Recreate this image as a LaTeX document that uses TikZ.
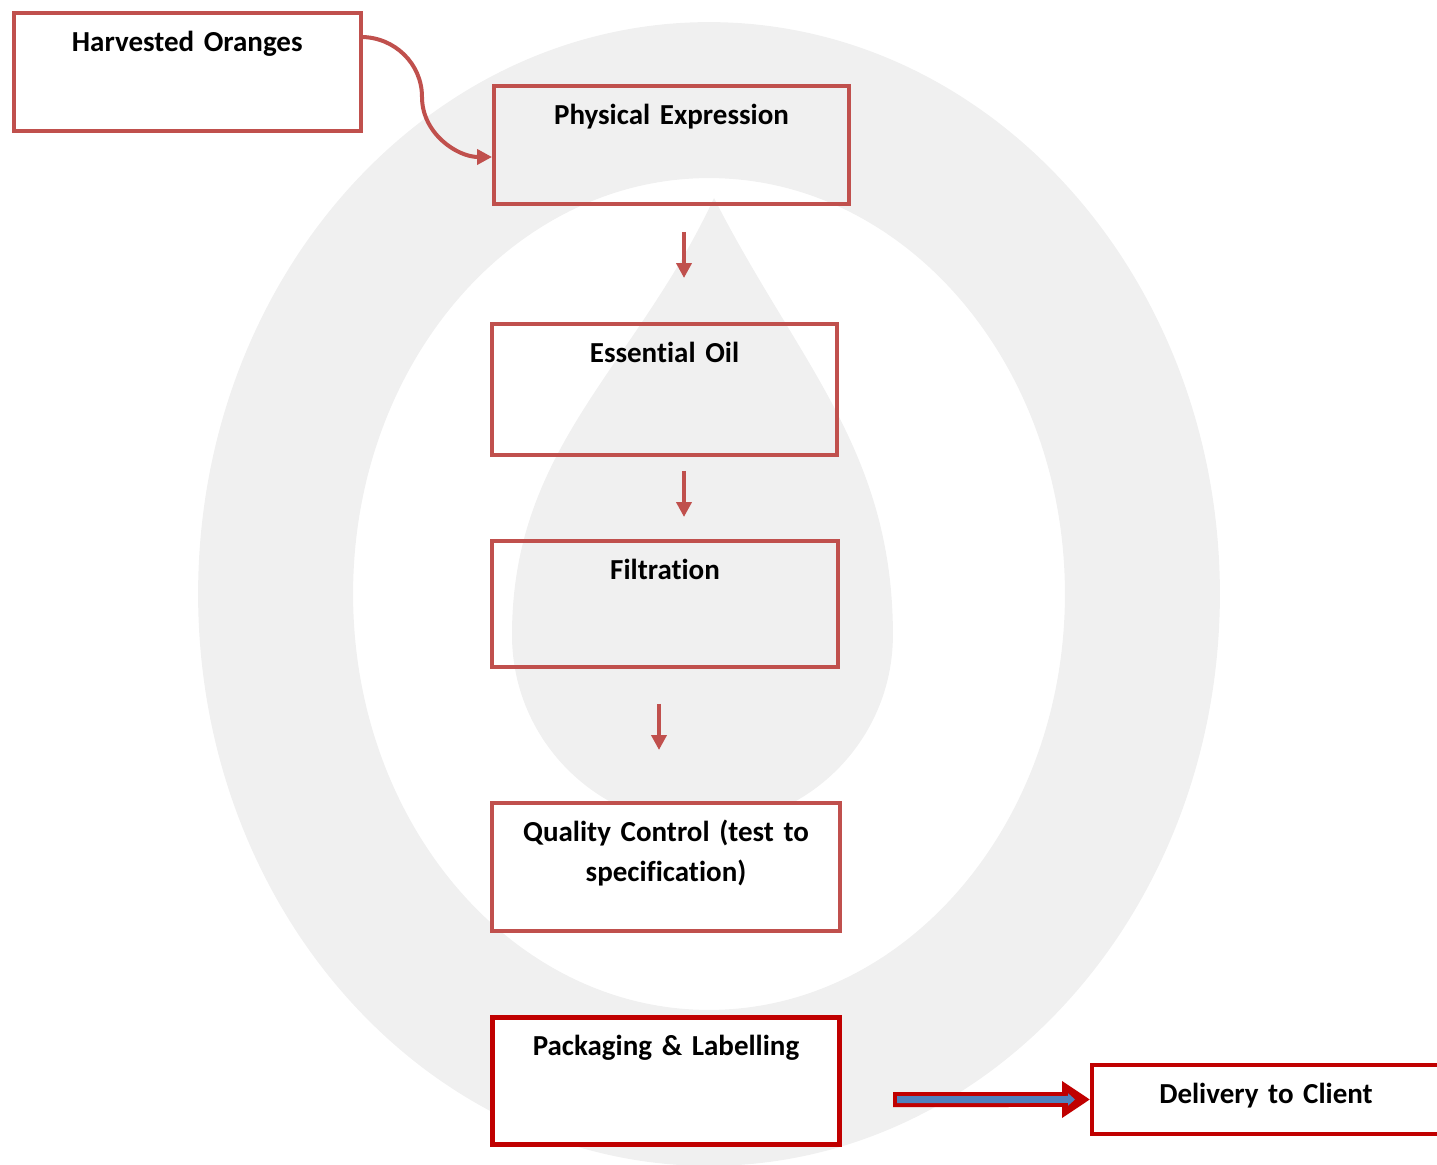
\documentclass[tikz,border=0pt]{standalone}
\usepackage{fontspec}
\setmainfont{Carlito}[Ligatures=NoCommon]
\usetikzlibrary{calc,arrows.meta}

\definecolor{boxred}{RGB}{192,80,77}
\definecolor{darkred}{RGB}{192,0,0}
\definecolor{ringgray}{RGB}{240,240,240}
\definecolor{shaftblue}{RGB}{79,129,189}

\tikzset{
  stepbox/.style={draw=boxred, line width=0.08cm, inner sep=0pt,
    outer sep=0pt, anchor=north, align=center, text height=0.77cm,
    font=\fontsize{16.5}{22.8}\selectfont\bfseries},
  flow/.style={boxred, line width=0.08cm,
    -{Triangle[length=0.3cm, width=0.3cm]}},
}

\begin{document}
\begin{tikzpicture}[x=0.02cm, y=0.02cm]
  \useasboundingbox (0,0) rectangle (1437,-1165);

  % ring and drop in the back
  \fill[ringgray, even odd rule]
    (709,-594) ellipse [x radius=10.22cm, y radius=11.44cm]
    (709,-594) ellipse [x radius=7.12cm, y radius=8.32cm];
  \coordinate (tip) at (714,-198);
  \fill[ringgray] (tip) to[out=-115, in=90] (512,-635)
    arc[start angle=180, end angle=360, radius=3.81cm]
    to[out=90, in=-63] (tip) -- cycle;

  \node[stepbox, text width=6.95cm, text depth=1.58cm]
    (harv) at (187.25,-13.5) {Harvested Oranges};

  \node[stepbox, text width=7.1cm, text depth=1.59cm]
    (phys) at (671.5,-86) {Physical Expression};

  \node[stepbox, text width=6.9cm, text depth=1.85cm]
    (oil) at (664.5,-324) {Essential Oil};

  \node[stepbox, text width=6.92cm, text depth=1.75cm]
    (filt) at (665,-541) {Filtration};

  \node[stepbox, fill=white, text width=6.96cm, text depth=1.79cm]
    (qc) at (666,-803) {Quality Control (test to\\specification)};

  \node[stepbox, draw=darkred, line width=0.1cm, fill=white,
    text width=6.96cm, text depth=1.79cm]
    (pack) at (666,-1017) {Packaging \& Labelling};

  \node[stepbox, draw=darkred, fill=white, text width=6.96cm,
    text depth=0.61cm]
    (dlv) at (1266,-1065) {Delivery to Client};

  \coordinate (col1) at (684,0);
  \coordinate (col3) at (659,0);
  \coordinate (bend) at (422,-97);
  \coordinate (dstart) at (893,-1099.5);

  \draw[flow, shorten >=0.04cm]
    ($(harv.north east)+(0,-23.5)$) to[out=0, in=90] (bend)
    to[out=-90, in=180] ($(phys.west)+(0,-12)$);

  \draw[flow, shorten <=0.56cm, shorten >=0.92cm]
    (phys.south -| col1) -- (oil.north -| col1);
  \draw[flow, shorten <=0.32cm, shorten >=0.48cm]
    (oil.south -| col1) -- (filt.north -| col1);
  \draw[flow, shorten <=0.74cm, shorten >=1.06cm]
    (filt.south -| col3) -- (qc.north -| col3);

  % fat arrow to the client
  \draw[darkred, line width=0.3cm, shorten >=0.04cm,
    -{Triangle[length=0.56cm, width=0.7cm]}]
    (dstart) -- (dlv.west);
  \draw[shaftblue, line width=0.14cm,
    -{Triangle[length=0.14cm, width=0.24cm]},
    shorten <=0.08cm, shorten >=0.34cm]
    (dstart) -- (dlv.west);
\end{tikzpicture}
\end{document}
